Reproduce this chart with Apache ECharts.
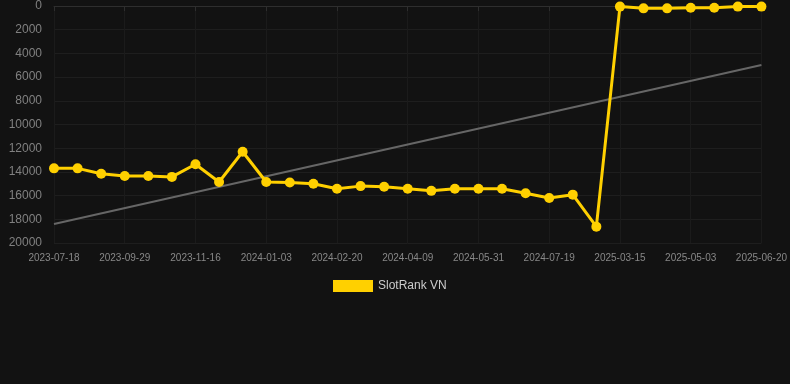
<!DOCTYPE html>
<html><head><meta charset="utf-8">
<script src="https://cdn.jsdelivr.net/npm/echarts@6/dist/echarts.min.js"></script>
<style>html,body{margin:0;padding:0;background:#121212;}#c{width:790px;height:384px;}</style>
</head><body><div id="c"></div>
<script>
const categories = [
  "2023-07-18","2023-08-11","2023-09-05","2023-09-29","2023-10-15","2023-10-31","2023-11-16","2023-12-02","2023-12-18",
  "2024-01-03","2024-01-19","2024-02-04","2024-02-20","2024-03-07","2024-03-24","2024-04-09","2024-04-26","2024-05-14",
  "2024-05-31","2024-06-16","2024-07-02","2024-07-19","2024-08-04","2024-08-20","2025-03-15","2025-03-31","2025-04-17",
  "2025-05-03","2025-05-19","2025-06-04","2025-06-20"
];
const rankValues = [
  13700,13700,14150,14350,14350,14420,13350,14850,12300,
  14850,14900,15000,15420,15200,15250,15420,15600,15420,
  15420,15420,15800,16200,15920,18620,50,200,200,
  150,150,50,50
];
const trendValues = [18400].concat(new Array(29).fill(null)).concat([4980]);
const yTicks = [0,2000,4000,6000,8000,10000,12000,14000,16000,18000,20000];
const seriesName = "SlotRank VN";

const chart = echarts.init(document.getElementById('c'));
chart.setOption({
  backgroundColor: '#121212',
  animation: false,
  grid: {left: 54, right: 27, top: 6, bottom: 141, containLabel: false},
  legend: {
    data: [seriesName], top: 275, left: 328,
    itemWidth: 40, itemHeight: 12, icon: 'rect',
    textStyle: {color: '#cccccc', fontSize: 12, fontFamily: 'Liberation Sans, Arial'}
  },
  xAxis: {
    type: 'category', data: categories, boundaryGap: false,
    axisLine: {lineStyle: {color: '#2e2e2e'}},
    axisTick: {show: true, interval: 2, lineStyle: {color: '#2e2e2e'}},
    axisLabel: {interval: 2, color: '#888', fontSize: 10, fontFamily: 'Liberation Sans, Arial', margin: 10},
    splitLine: {show: true, interval: 2, lineStyle: {color: '#1b1b1b'}}
  },
  yAxis: {
    type: 'value', inverse: true, min: yTicks[0], max: yTicks[yTicks.length-1], interval: 2000,
    axisLine: {show: false}, axisTick: {show: false},
    axisLabel: {color: '#808080', fontSize: 12, fontFamily: 'Liberation Sans, Arial', margin: 12,
      formatter: function (v) { return String(v); }},
    splitLine: {lineStyle: {color: '#1e1e1e'}}
  },
  series: [
    {
      name: seriesName, type: 'line', data: rankValues,
      symbol: 'circle', symbolSize: 10,
      lineStyle: {color: '#ffd000', width: 3},
      itemStyle: {color: '#ffd000'},
      z: 3
    },
    {
      name: 'trend', type: 'line', data: trendValues, connectNulls: true,
      symbol: 'none', lineStyle: {color: '#666', width: 2},
      z: 2
    }
  ]
});
</script></body></html>
